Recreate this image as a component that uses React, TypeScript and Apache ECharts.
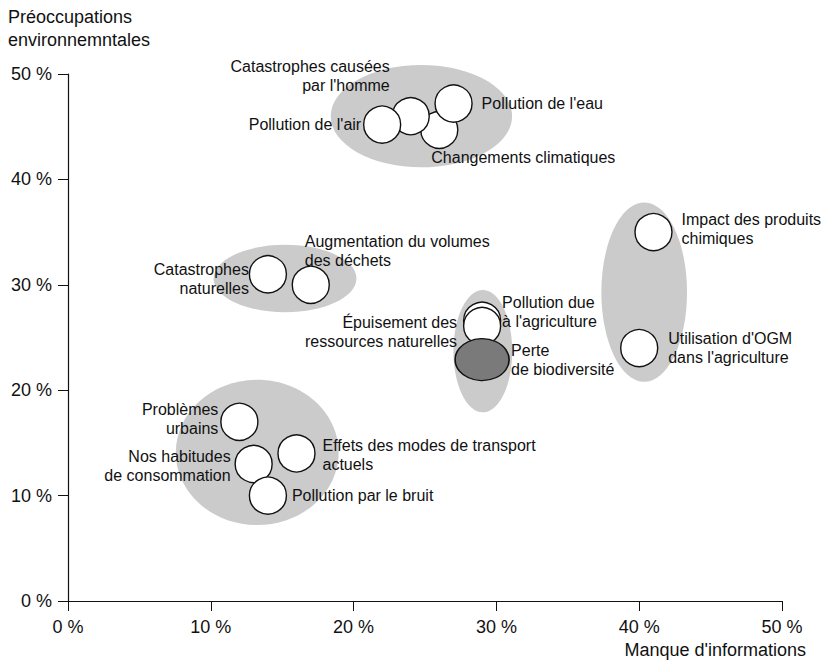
import React, { useEffect, useRef } from "react";
import * as echarts from "echarts";

// ---- Data ----
const xTicks = [0, 10, 20, 30, 40, 50];
const yTicks = [0, 10, 20, 30, 40, 50];

const pointNames = [
  "Changements climatiques",
  "Catastrophes causées\npar l'homme",
  "Pollution de l'air",
  "Pollution de l'eau",
  "Impact des produits\nchimiques",
  "Utilisation d'OGM\ndans l'agriculture",
  "Catastrophes\nnaturelles",
  "Augmentation du volumes\ndes déchets",
  "Pollution due\nà l'agriculture",
  "Épuisement des\nressources naturelles",
  "Problèmes\nurbains",
  "Nos habitudes\nde consommation",
  "Effets des modes de transport\nactuels",
  "Pollution par le bruit",
];
const manqueInfo = [26, 24, 22, 27, 41, 40, 14, 17, 29, 29, 12, 13, 16, 14];
const preoccupations = [44.7, 46, 45.2, 47.2, 35, 24, 31, 30, 26.6, 26.1, 17, 13, 14, 10];

const highlightName = "Perte\nde biodiversité";
const highlightX = 29;
const highlightY = 22.9;

// clusters: center x, center y, radius x, radius y (data units)
const clusterCx = [24.75, 40.35, 15.2, 29.05, 13.25];
const clusterCy = [46.0, 29.3, 30.6, 23.7, 14.1];
const clusterRx = [6.35, 3.0, 5.0, 2.06, 5.7];
const clusterRy = [4.85, 8.5, 3.2, 5.8, 6.9];

// ---- Label layout (styles) ----
const labelAlign = ["left", "right", "right", "left", "left", "left", "right", "left", "left", "right", "right", "right", "left", "left"];
const labelOffset: [number, number][] = [
  [-8, 28],
  [-21, -40],
  [-21, 0],
  [28, 0],
  [28, -3],
  [29, 0],
  [-19, 5],
  [-6, -34],
  [20, -9],
  [-25, 6],
  [-21, -3],
  [-23, 2],
  [26, 2],
  [24, 0],
];

const FONT = "'Liberation Sans', Arial, Helvetica, sans-serif";

export default function App() {
  const ref = useRef<HTMLDivElement>(null);
  useEffect(() => {
    document.body.style.margin = "0";
    const chart = echarts.init(ref.current!, undefined, { renderer: "svg" });
    const labelBase = {
      show: true,
      position: "inside",
      color: "#111",
      fontSize: 16,
      lineHeight: 19,
      fontFamily: FONT,
      verticalAlign: "middle",
    };
    const option: any = {
      animation: false,
      backgroundColor: "#ffffff",
      grid: { left: 68, right: 40, top: 74, bottom: 61, containLabel: false, outerBoundsMode: "none" },
      xAxis: {
        type: "value",
        min: xTicks[0],
        max: xTicks[xTicks.length - 1],
        interval: 10,
        axisLine: { show: true, lineStyle: { color: "#111", width: 1.2 } },
        axisTick: { show: true, inside: false, length: 10, lineStyle: { color: "#111" } },
        axisLabel: { formatter: "{value} %", color: "#111", fontSize: 18, fontFamily: FONT, margin: 17 },
        splitLine: { show: false },
      },
      yAxis: {
        type: "value",
        min: yTicks[0],
        max: yTicks[yTicks.length - 1],
        interval: 10,
        axisLine: { show: true, lineStyle: { color: "#111", width: 1.2 } },
        axisTick: { show: true, inside: false, length: 10, lineStyle: { color: "#111" } },
        axisLabel: { formatter: "{value} %", color: "#111", fontSize: 18, fontFamily: FONT, margin: 16 },
        splitLine: { show: false },
      },
      graphic: [
        {
          type: "text",
          left: 8,
          top: 5,
          style: {
            text: "Préoccupations\nenvironnemntales",
            fontSize: 18,
            lineHeight: 23,
            fontFamily: FONT,
            fill: "#111",
          },
        },
        {
          type: "text",
          right: 16,
          top: 641,
          style: {
            text: "Manque d'informations",
            fontSize: 18,
            fontFamily: FONT,
            fill: "#111",
          },
        },
      ],
      series: [
        {
          type: "custom",
          z: 1,
          silent: true,
          data: clusterCx.map((cx, i) => [cx, clusterCy[i], clusterRx[i], clusterRy[i]]),
          renderItem: (_params: any, api: any) => {
            const c = api.coord([api.value(0), api.value(1)]);
            const s = api.size([api.value(2), api.value(3)]);
            return {
              type: "ellipse",
              shape: { cx: c[0], cy: c[1], rx: s[0], ry: s[1] },
              style: { fill: "#cbcbcb" },
            };
          },
        },
        {
          type: "scatter",
          z: 2,
          symbol: "circle",
          symbolSize: 37,
          itemStyle: { color: "#ffffff", borderColor: "#111", borderWidth: 1.4, opacity: 1 },
          data: pointNames.map((n, i) => ({
            value: [manqueInfo[i], preoccupations[i]],
            name: n,
            label: { ...labelBase, formatter: n, align: labelAlign[i], offset: labelOffset[i] },
          })),
        },
        {
          type: "scatter",
          z: 3,
          symbol: "circle",
          symbolSize: [54, 42],
          itemStyle: { color: "#7a7a7a", borderColor: "#111", borderWidth: 1.4, opacity: 1 },
          data: [
            {
              value: [highlightX, highlightY],
              name: highlightName,
              label: { ...labelBase, formatter: highlightName, align: "left", offset: [29, 0] },
            },
          ],
        },
      ],
    };
    chart.setOption(option);
    return () => chart.dispose();
  }, []);
  return <div ref={ref} style={{ width: 822, height: 662 }} />;
}
